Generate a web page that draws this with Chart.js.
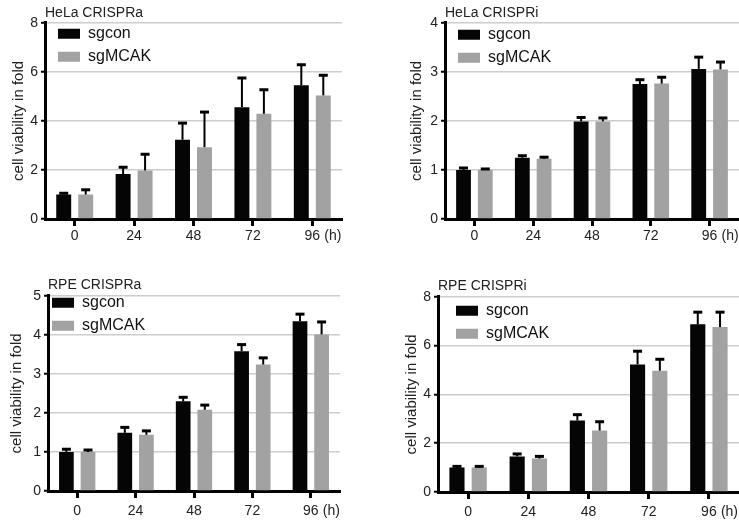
<!DOCTYPE html>
<html>
<head>
<meta charset="utf-8">
<script src="https://cdn.jsdelivr.net/npm/chart.js@4.4.1/dist/chart.umd.min.js"></script>
<style>
    body { margin: 0; background: #fff; }
    .panel { position: absolute; }
</style>
</head>
<body>
<div class="panel" style="left:0;top:0;width:370px;height:260px"><canvas id="helaA"></canvas></div>
<div class="panel" style="left:370px;top:0;width:369px;height:260px"><canvas id="helaI"></canvas></div>
<div class="panel" style="left:0;top:260px;width:370px;height:263px"><canvas id="rpeA"></canvas></div>
<div class="panel" style="left:370px;top:260px;width:369px;height:263px"><canvas id="rpeI"></canvas></div>
<script>
// time points (h)
var hours = ['0', '24', '48', '72', '96'];

// HeLa CRISPRa
var helaA_sgcon = [1.0, 1.83, 3.23, 4.56, 5.45];
var helaA_sgconErr = [0.05, 0.28, 0.68, 1.19, 0.84];
var helaA_sgMCAK = [1.0, 1.98, 2.93, 4.29, 5.04];
var helaA_sgMCAKErr = [0.19, 0.66, 1.43, 0.98, 0.82];

// HeLa CRISPRi
var helaI_sgcon = [1.0, 1.25, 1.99, 2.75, 3.06];
var helaI_sgconErr = [0.04, 0.04, 0.08, 0.09, 0.24];
var helaI_sgMCAK = [1.0, 1.23, 1.99, 2.76, 3.05];
var helaI_sgMCAKErr = [0.02, 0.03, 0.07, 0.13, 0.15];

// RPE CRISPRa
var rpeA_sgcon = [1.0, 1.49, 2.30, 3.58, 4.35];
var rpeA_sgconErr = [0.07, 0.14, 0.10, 0.17, 0.18];
var rpeA_sgMCAK = [1.0, 1.44, 2.08, 3.24, 4.01];
var rpeA_sgMCAKErr = [0.05, 0.10, 0.12, 0.17, 0.32];

// RPE CRISPRi
var rpeI_sgcon = [1.0, 1.46, 2.93, 5.23, 6.87];
var rpeI_sgconErr = [0.05, 0.10, 0.24, 0.54, 0.50];
var rpeI_sgMCAK = [1.0, 1.37, 2.52, 4.97, 6.76];
var rpeI_sgMCAKErr = [0.05, 0.09, 0.36, 0.47, 0.61];

var FONT = "'Liberation Sans', Arial, Helvetica, sans-serif";
Chart.defaults.font.family = FONT;
Chart.defaults.color = '#222';

// upper error bars with a cap, drawn from each bar's value + error
var errorBars = {
    id: 'errorBars',
    afterDatasetsDraw: function (chart) {
        var ctx = chart.ctx;
        var yScale = chart.scales.y;
        ctx.save();
        ctx.strokeStyle = '#000';
        chart.data.datasets.forEach(function (ds, i) {
            chart.getDatasetMeta(i).data.forEach(function (bar, j) {
                var top = yScale.getPixelForValue(ds.data[j] + ds.errors[j]);
                ctx.lineWidth = 2;
                ctx.beginPath();
                ctx.moveTo(bar.x, bar.y);
                ctx.lineTo(bar.x, top);
                ctx.stroke();
                ctx.lineWidth = 3;
                ctx.beginPath();
                ctx.moveTo(bar.x - 4.5, top);
                ctx.lineTo(bar.x + 4.5, top);
                ctx.stroke();
            });
        });
        ctx.restore();
    }
};

// "(h)" unit after the last time label
var hoursUnit = {
    id: 'hoursUnit',
    afterDraw: function (chart) {
        var x = chart.scales.x;
        var opts = x.options;
        var ctx = chart.ctx;
        var px = x.getPixelForTick(x.ticks.length - 1);
        var y = x.top + opts.grid.tickLength + opts.ticks.padding + 14 * 1.2 / 2;
        ctx.save();
        ctx.font = '14px ' + FONT;
        ctx.fillStyle = '#222';
        ctx.textAlign = 'left';
        ctx.textBaseline = 'middle';
        ctx.fillText('(h)', px + 12, y);
        ctx.restore();
    }
};

// keep the legend inside the plot, near its top-left corner
var legendInside = {
    id: 'legendInside',
    afterLayout: function (chart, args, opts) {
        var lg = chart.legend;
        var ca = chart.chartArea;
        var labels = lg.options.labels;
        var shift = (labels.font.size - labels.boxHeight) / 2;
        var h = lg.bottom - lg.top;
        lg.left = ca.left + opts.dx - labels.padding;
        lg.top = ca.top + opts.dy - labels.padding - shift;
        lg.bottom = lg.top + h;
    }
};

function makePanel(id, title, yMax, yStep, con, conErr, mcak, mcakErr, g) {
    new Chart(document.getElementById(id), {
        type: 'bar',
        data: {
            labels: hours,
            datasets: [{
                label: 'sgcon',
                data: con,
                errors: conErr,
                backgroundColor: '#050505',
                borderWidth: 0
            }, {
                label: 'sgMCAK',
                data: mcak,
                errors: mcakErr,
                backgroundColor: '#a2a2a2',
                borderWidth: 0
            }]
        },
        options: {
            responsive: true,
            maintainAspectRatio: false,
            animation: false,
            categoryPercentage: 0.74,
            barPercentage: 0.68,
            layout: {
                padding: { left: 0, right: g.right, top: 0, bottom: 0 }
            },
            scales: {
                x: {
                    afterFit: function (s) { s.height = g.xHeight; },
                    border: { color: '#000', width: 3 },
                    grid: {
                        offset: false,
                        drawOnChartArea: false,
                        drawTicks: true,
                        tickLength: 7,
                        tickWidth: 3,
                        tickColor: '#000'
                    },
                    ticks: {
                        padding: g.xPad,
                        color: '#222',
                        font: { size: 14 }
                    }
                },
                y: {
                    afterFit: function (s) { s.width = g.yWidth; },
                    min: 0,
                    max: yMax,
                    border: { color: '#000', width: 3 },
                    grid: {
                        color: '#cdcdcd',
                        lineWidth: 1.5,
                        tickColor: '#000',
                        tickWidth: 2,
                        tickLength: 4
                    },
                    ticks: {
                        stepSize: yStep,
                        padding: 3,
                        color: '#222',
                        font: { size: 14 }
                    },
                    title: {
                        display: true,
                        text: 'cell viability in fold',
                        color: '#222',
                        font: { size: 15 },
                        padding: { top: g.yTitlePad, bottom: 0 }
                    }
                }
            },
            plugins: {
                title: {
                    display: true,
                    text: title,
                    align: 'start',
                    fullSize: false,
                    color: '#222',
                    font: { size: 14, weight: 'normal' },
                    padding: { top: g.titleTop, bottom: g.titleBottom }
                },
                legend: {
                    position: 'chartArea',
                    align: 'start',
                    labels: {
                        boxWidth: 22,
                        boxHeight: 10,
                        padding: 7,
                        color: '#111',
                        font: { size: 16 }
                    }
                },
                legendInside: { dx: g.legendDx, dy: g.legendDy },
                tooltip: { enabled: false }
            }
        },
        plugins: [errorBars, hoursUnit, legendInside]
    });
}

makePanel('helaA', 'HeLa CRISPRa', 8, 2, helaA_sgcon, helaA_sgconErr, helaA_sgMCAK, helaA_sgMCAKErr,
    { right: 28, yWidth: 45, xHeight: 41, xPad: 2, yTitlePad: 10, titleTop: 5, titleBottom: 1, legendDx: 13, legendDy: 6 });
makePanel('helaI', 'HeLa CRISPRi', 4, 1, helaI_sgcon, helaI_sgconErr, helaI_sgMCAK, helaI_sgMCAKErr,
    { right: 0, yWidth: 75, xHeight: 41, xPad: 2, yTitlePad: 38, titleTop: 5, titleBottom: 1, legendDx: 13, legendDy: 7 });
makePanel('rpeA', 'RPE CRISPRa', 5, 1, rpeA_sgcon, rpeA_sgconErr, rpeA_sgMCAK, rpeA_sgMCAKErr,
    { right: 30, yWidth: 48, xHeight: 32, xPad: 5, yTitlePad: 8, titleTop: 17, titleBottom: 2, legendDx: 4, legendDy: 2 });
makePanel('rpeI', 'RPE CRISPRi', 8, 2, rpeI_sgcon, rpeI_sgconErr, rpeI_sgMCAK, rpeI_sgMCAKErr,
    { right: 0, yWidth: 68, xHeight: 31, xPad: 5, yTitlePad: 33, titleTop: 18, titleBottom: 2, legendDx: 18, legendDy: 9 });
</script>
</body>
</html>
